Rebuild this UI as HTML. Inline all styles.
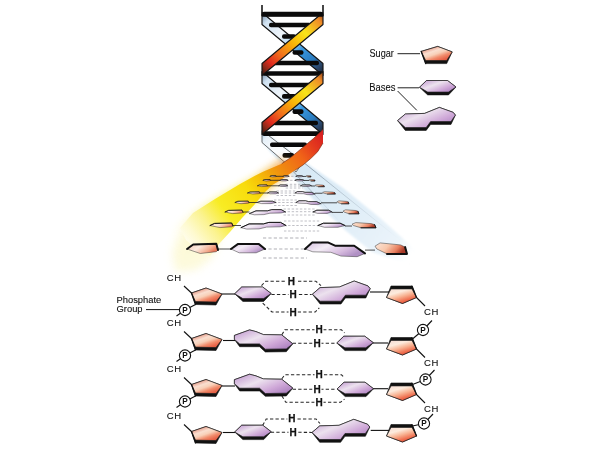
<!DOCTYPE html><html><head><meta charset="utf-8"><style>html,body{margin:0;padding:0;background:#fff;}svg{display:block;filter:blur(0.35px)}text{font-family:"Liberation Sans",sans-serif}</style></head><body>
<svg width="600" height="450" viewBox="0 0 600 450">
<defs>
<linearGradient id="sug" x1="0.1" y1="0" x2="0.85" y2="1">
 <stop offset="0" stop-color="#c06252"/><stop offset="0.18" stop-color="#e8a492"/><stop offset="0.36" stop-color="#fadfd0"/><stop offset="0.52" stop-color="#f8d0b8"/><stop offset="0.7" stop-color="#f18c6c"/><stop offset="0.86" stop-color="#e8664a"/><stop offset="1" stop-color="#d85036"/></linearGradient>
<linearGradient id="sugR" x1="0.1" y1="0" x2="0.7" y2="1">
 <stop offset="0" stop-color="#f6dcd4"/><stop offset="0.3" stop-color="#fdebdd"/><stop offset="0.55" stop-color="#f8b494"/><stop offset="0.8" stop-color="#ef7050"/><stop offset="1" stop-color="#d84430"/></linearGradient>
<linearGradient id="bas" x1="0" y1="0.1" x2="1" y2="0.9">
 <stop offset="0" stop-color="#c29ad0"/><stop offset="0.38" stop-color="#ece2ee"/><stop offset="0.7" stop-color="#cfa8d8"/><stop offset="1" stop-color="#a87cbc"/></linearGradient>
<linearGradient id="fanY" gradientUnits="userSpaceOnUse" x1="323" y1="136" x2="185" y2="245">
 <stop offset="0" stop-color="#d82020"/><stop offset="0.08" stop-color="#e43a1e"/><stop offset="0.17" stop-color="#f06418"/><stop offset="0.27" stop-color="#f08212"/><stop offset="0.36" stop-color="#f2a00c"/><stop offset="0.44" stop-color="#f6c208"/><stop offset="0.52" stop-color="#f8dc0c"/><stop offset="0.7" stop-color="#f8ec24"/><stop offset="0.82" stop-color="#fbf390"/><stop offset="0.92" stop-color="#fefad0"/><stop offset="1" stop-color="#fffef4"/></linearGradient>
<linearGradient id="fanB" gradientUnits="userSpaceOnUse" x1="300" y1="160" x2="410" y2="262">
 <stop offset="0" stop-color="#d6e8f5"/><stop offset="0.5" stop-color="#e0eef8"/><stop offset="0.85" stop-color="#ebf4fa"/><stop offset="1" stop-color="#ffffff" stop-opacity="0"/></linearGradient>
<linearGradient id="fsug" x1="0" y1="0" x2="1" y2="0.3">
 <stop offset="0" stop-color="#fbe6da"/><stop offset="0.45" stop-color="#f8c8ac"/><stop offset="0.78" stop-color="#e88060"/><stop offset="1" stop-color="#a83a28"/></linearGradient>
<linearGradient id="fsugL" x1="0" y1="0" x2="1" y2="0.4">
 <stop offset="0" stop-color="#f4c4b0"/><stop offset="0.45" stop-color="#fcebdf"/><stop offset="0.8" stop-color="#f4b094"/><stop offset="1" stop-color="#e87a5c"/></linearGradient>
<linearGradient id="fbas" x1="0" y1="0" x2="1" y2="0.5">
 <stop offset="0" stop-color="#d4bede"/><stop offset="0.4" stop-color="#f4eef6"/><stop offset="0.75" stop-color="#d6bade"/><stop offset="1" stop-color="#b090c4"/></linearGradient>
<filter id="blur1" x="-20%" y="-20%" width="140%" height="140%"><feGaussianBlur stdDeviation="1.2"/></filter>
<filter id="blur3" x="-30%" y="-30%" width="160%" height="160%"><feGaussianBlur stdDeviation="4"/></filter>
</defs>
<rect width="600" height="450" fill="#fff"/>
<g filter="url(#blur1)"><polygon points="262.0,130.0 303.0,161.0 343.0,188.0 380.0,218.0 418.0,252.0 408.0,264.0 372.0,252.0 345.0,230.0 318.0,205.0 296.0,180.0 262.0,142.0" fill="url(#fanB)"/></g>
<linearGradient id="lnfade" gradientUnits="userSpaceOnUse" x1="303" y1="162" x2="400" y2="240"><stop offset="0" stop-color="#6a7a88"/><stop offset="0.5" stop-color="#9aaab8" stop-opacity="0.6"/><stop offset="1" stop-color="#c0d0dc" stop-opacity="0"/></linearGradient>
<line x1="303" y1="162" x2="400" y2="240" stroke="url(#lnfade)" stroke-width="0.7" />
<linearGradient id="lnfade2" gradientUnits="userSpaceOnUse" x1="290" y1="168" x2="340" y2="222"><stop offset="0" stop-color="#6a7a88"/><stop offset="0.6" stop-color="#9aaab8" stop-opacity="0.6"/><stop offset="1" stop-color="#c0d0dc" stop-opacity="0"/></linearGradient>
<line x1="290" y1="168" x2="340" y2="222" stroke="url(#lnfade2)" stroke-width="0.7" />
<defs><linearGradient id="fg0" gradientUnits="userSpaceOnUse" x1="323" y1="14.5" x2="262" y2="73.5"><stop offset="0" stop-color="#9a4a1a"/><stop offset="0.08" stop-color="#ee8a28"/><stop offset="0.3" stop-color="#f8e41a"/><stop offset="0.5" stop-color="#f8b208"/><stop offset="0.7" stop-color="#f06a1c"/><stop offset="0.84" stop-color="#e02a1e"/><stop offset="0.93" stop-color="#8a2a1a"/><stop offset="1" stop-color="#3a1a12"/></linearGradient><linearGradient id="bg0" gradientUnits="userSpaceOnUse" x1="262" y1="14.5" x2="323" y2="73.5"><stop offset="0" stop-color="#7890a8"/><stop offset="0.1" stop-color="#d0e2f2"/><stop offset="0.32" stop-color="#eef4fa"/><stop offset="0.5" stop-color="#a8d4f2"/><stop offset="0.62" stop-color="#3898e0"/><stop offset="0.8" stop-color="#2a7cc0"/><stop offset="0.9" stop-color="#2c4a70"/><stop offset="1" stop-color="#1c2434"/></linearGradient><linearGradient id="fg1" gradientUnits="userSpaceOnUse" x1="323" y1="73.5" x2="262" y2="132.5"><stop offset="0" stop-color="#9a4a1a"/><stop offset="0.08" stop-color="#ee8a28"/><stop offset="0.3" stop-color="#f8e41a"/><stop offset="0.5" stop-color="#f8b208"/><stop offset="0.7" stop-color="#f06a1c"/><stop offset="0.84" stop-color="#e02a1e"/><stop offset="0.93" stop-color="#8a2a1a"/><stop offset="1" stop-color="#3a1a12"/></linearGradient><linearGradient id="bg1" gradientUnits="userSpaceOnUse" x1="262" y1="73.5" x2="323" y2="132.5"><stop offset="0" stop-color="#7890a8"/><stop offset="0.1" stop-color="#d0e2f2"/><stop offset="0.32" stop-color="#eef4fa"/><stop offset="0.5" stop-color="#a8d4f2"/><stop offset="0.62" stop-color="#3898e0"/><stop offset="0.8" stop-color="#2a7cc0"/><stop offset="0.9" stop-color="#2c4a70"/><stop offset="1" stop-color="#1c2434"/></linearGradient><linearGradient id="fg2" gradientUnits="userSpaceOnUse" x1="323" y1="132.5" x2="262" y2="191.5"><stop offset="0" stop-color="#9a4a1a"/><stop offset="0.08" stop-color="#ee8a28"/><stop offset="0.3" stop-color="#f8e41a"/><stop offset="0.5" stop-color="#f8b208"/><stop offset="0.7" stop-color="#f06a1c"/><stop offset="0.84" stop-color="#e02a1e"/><stop offset="0.93" stop-color="#8a2a1a"/><stop offset="1" stop-color="#3a1a12"/></linearGradient><linearGradient id="bg2" gradientUnits="userSpaceOnUse" x1="262" y1="132.5" x2="323" y2="191.5"><stop offset="0" stop-color="#7890a8"/><stop offset="0.1" stop-color="#d0e2f2"/><stop offset="0.32" stop-color="#eef4fa"/><stop offset="0.5" stop-color="#a8d4f2"/><stop offset="0.62" stop-color="#3898e0"/><stop offset="0.8" stop-color="#2a7cc0"/><stop offset="0.9" stop-color="#2c4a70"/><stop offset="1" stop-color="#1c2434"/></linearGradient><linearGradient id="bs2" gradientUnits="userSpaceOnUse" x1="262" y1="131" x2="300" y2="166"><stop offset="0" stop-color="#a4cae6"/><stop offset="0.15" stop-color="#e6f0f8"/><stop offset="0.4" stop-color="#fafcfe"/><stop offset="1" stop-color="#fcfdfe"/></linearGradient></defs>
<polygon points="262.0,12.5 262.0,24.5 323.0,75.5 323.0,63.5" fill="url(#bg0)" stroke="#141414" stroke-width="1.15" stroke-linejoin="round"/>
<polygon points="262.0,71.5 262.0,83.5 323.0,134.5 323.0,122.5" fill="url(#bg1)" stroke="#141414" stroke-width="1.15" stroke-linejoin="round"/>
<polygon points="262.0,130.5 262.0,142.5 296.0,172.0 303.0,162.0" fill="url(#bs2)" stroke="#333" stroke-width="0.7"/>
<rect x="262" y="11.7" width="61" height="4.6" rx="2" fill="#0a0a0a"/>
<rect x="269" y="22.7" width="42" height="4.6" rx="2" fill="#0a0a0a"/>
<rect x="282" y="34.2" width="14" height="4.6" rx="2" fill="#0a0a0a"/>
<rect x="292.5" y="50.2" width="11.0" height="4.6" rx="2" fill="#0a0a0a"/>
<rect x="271" y="60.7" width="48" height="4.6" rx="2" fill="#0a0a0a"/>
<rect x="262" y="71.2" width="61" height="4.6" rx="2" fill="#0a0a0a"/>
<rect x="269" y="82.7" width="42" height="4.6" rx="2" fill="#0a0a0a"/>
<rect x="282" y="94.10000000000001" width="14" height="4.6" rx="2" fill="#0a0a0a"/>
<rect x="292.5" y="109.3" width="11.0" height="4.6" rx="2" fill="#0a0a0a"/>
<rect x="273" y="120.7" width="45" height="4.6" rx="2" fill="#0a0a0a"/>
<rect x="262" y="131.29999999999998" width="61" height="4.6" rx="2" fill="#0a0a0a"/>
<rect x="270" y="142.39999999999998" width="37" height="4.6" rx="2" fill="#0a0a0a"/>
<rect x="282.5" y="153.1" width="11.5" height="4.6" rx="2" fill="#0a0a0a"/>
<polygon points="323.0,12.5 323.0,24.5 262.0,75.5 262.0,63.5" fill="url(#fg0)" stroke="#141414" stroke-width="1.15" stroke-linejoin="round"/>
<polygon points="323.0,71.5 323.0,83.5 262.0,134.5 262.0,122.5" fill="url(#fg1)" stroke="#141414" stroke-width="1.15" stroke-linejoin="round"/>
<path d="M262,5 L262,12.5 Q262,13.5 264,13.5" fill="none" stroke="#1a1a1a" stroke-width="1.6"/>
<path d="M323,5 L323,12.5 Q323,13.5 321,13.5" fill="none" stroke="#1a1a1a" stroke-width="1.6"/>
<rect x="261.3" y="12.4" width="62.4" height="4.4" rx="1.5" fill="#0a0a0a"/>
<g filter="url(#blur3)" opacity="0.75"><polygon points="285.0,158.0 255.0,178.0 225.0,195.0 195.0,212.0 176.0,228.0 170.0,250.0 185.0,258.0 205.0,246.0 218.0,232.0 240.0,212.0 265.0,192.0 290.0,170.0" fill="url(#fanY)"/></g>
<g filter="url(#blur3)" opacity="0.55"><polygon points="196.0,222.0 180.0,236.0 172.0,256.0 176.0,272.0 196.0,270.0 212.0,258.0 220.0,240.0 212.0,228.0" fill="#fbf6c0"/></g>
<polygon points="323.0,129.5 313.7,138.3 305.7,145.0 297.7,151.7 289.7,158.3 281.7,163.7 272.3,167.7 263.0,171.7 255.0,175.7 240.0,184.0 215.0,199.0 193.0,213.0 180.0,228.0 186.0,240.0 200.0,252.0 210.0,256.0 218.0,245.0 230.0,232.0 242.0,218.0 255.0,204.0 265.0,192.0 272.3,185.0 279.0,181.0 287.0,175.7 295.0,170.3 303.0,165.0 311.0,158.3 317.7,151.7 323.0,143.0" fill="url(#fanY)"/>
<polyline points="323.0,129.5 313.7,138.3 305.7,145.0 297.7,151.7 289.7,158.3 281.7,163.7" fill="none" stroke="#7a2a10" stroke-width="0.8" opacity="0.8"/>
<polyline points="323.0,143.0 317.7,151.7 311.0,158.3 303.0,165.0 295.0,170.3" fill="none" stroke="#7a2a10" stroke-width="0.8" opacity="0.8"/>
<line x1="263" y1="238" x2="307" y2="238" stroke="#8c8c96" stroke-width="0.7" stroke-dasharray="3.2 2.2"/>
<line x1="263" y1="249" x2="307" y2="249" stroke="#8c8c96" stroke-width="0.7" stroke-dasharray="3.2 2.2"/>
<line x1="263" y1="258" x2="307" y2="258" stroke="#8c8c96" stroke-width="0.7" stroke-dasharray="3.2 2.2"/>
<line x1="218" y1="249" x2="231" y2="249" stroke="#222" stroke-width="0.8" />
<line x1="365" y1="250.1" x2="375" y2="250.1" stroke="#222" stroke-width="0.8" />
<polygon points="187.0,249.0 193.2,244.5 216.3,243.7 218.0,250.0 216.3,251.7 200.3,253.5" fill="url(#fsugL)" stroke="#333" stroke-width="0.5" stroke-linejoin="round"/><polyline points="187.0,249.0 193.2,244.5 216.3,243.7 218.0,250.0" fill="none" stroke="#111" stroke-width="2.00" stroke-linejoin="round" stroke-linecap="round"/>
<polygon points="231.0,249.0 237.8,244.1 258.9,244.1 265.0,249.0 256.2,252.8 239.2,252.8" fill="url(#fbas)" stroke="#333" stroke-width="0.5" stroke-linejoin="round"/><polyline points="231.0,249.0 237.8,244.1 258.9,244.1 265.0,249.0" fill="none" stroke="#111" stroke-width="2.00" stroke-linejoin="round" stroke-linecap="round"/>
<polygon points="305.0,249.0 312.2,242.4 327.8,242.4 335.0,245.7 354.2,245.7 365.0,253.4 357.2,256.7 341.0,256.1 330.8,252.3 312.8,251.8" fill="url(#fbas)" stroke="#333" stroke-width="0.5" stroke-linejoin="round"/><polyline points="305.0,249.0 312.2,242.4 327.8,242.4 335.0,245.7 354.2,245.7 365.0,253.4" fill="none" stroke="#111" stroke-width="2.00" stroke-linejoin="round" stroke-linecap="round"/>
<polygon points="375.0,246.2 380.1,242.9 400.6,244.9 405.1,247.1 407.0,253.9 387.0,253.9 376.9,249.0" fill="url(#fsug)" stroke="#333" stroke-width="0.5" stroke-linejoin="round"/><polyline points="405.1,247.1 407.0,253.9 387.0,253.9" fill="none" stroke="#111" stroke-width="2.00" stroke-linejoin="round" stroke-linecap="round"/>
<line x1="284" y1="221" x2="320" y2="221" stroke="#8c8c96" stroke-width="0.55" stroke-dasharray="2.4 1.7"/>
<line x1="284" y1="225.5" x2="320" y2="225.5" stroke="#8c8c96" stroke-width="0.55" stroke-dasharray="2.4 1.7"/>
<line x1="284" y1="231" x2="320" y2="231" stroke="#8c8c96" stroke-width="0.55" stroke-dasharray="2.4 1.7"/>
<line x1="233" y1="225.5" x2="241" y2="225.5" stroke="#222" stroke-width="0.8" />
<line x1="345" y1="226.02" x2="352" y2="226.02" stroke="#222" stroke-width="0.8" />
<polygon points="210.0,225.5 214.6,223.4 231.7,223.0 233.0,226.0 231.7,226.8 219.9,227.6" fill="url(#fsugL)" stroke="#333" stroke-width="0.5" stroke-linejoin="round"/><polyline points="210.0,225.5 214.6,223.4 231.7,223.0 233.0,226.0" fill="none" stroke="#111" stroke-width="0.99" stroke-linejoin="round" stroke-linecap="round"/>
<polygon points="286.0,225.5 280.6,222.4 268.9,222.4 263.5,223.9 249.1,223.9 241.0,227.6 246.8,229.1 259.0,228.9 266.6,227.1 280.1,226.8" fill="url(#fbas)" stroke="#333" stroke-width="0.5" stroke-linejoin="round"/><polyline points="286.0,225.5 280.6,222.4 268.9,222.4 263.5,223.9 249.1,223.9 241.0,227.6" fill="none" stroke="#111" stroke-width="0.99" stroke-linejoin="round" stroke-linecap="round"/>
<polygon points="318.0,225.5 323.4,223.2 340.1,223.2 345.0,225.5 338.0,227.3 324.5,227.3" fill="url(#fbas)" stroke="#333" stroke-width="0.5" stroke-linejoin="round"/><polyline points="318.0,225.5 323.4,223.2 340.1,223.2 345.0,225.5" fill="none" stroke="#111" stroke-width="0.99" stroke-linejoin="round" stroke-linecap="round"/>
<polygon points="352.0,224.2 355.8,222.6 371.2,223.6 374.6,224.6 376.0,227.8 361.0,227.8 353.4,225.5" fill="url(#fsug)" stroke="#333" stroke-width="0.5" stroke-linejoin="round"/><polyline points="374.6,224.6 376.0,227.8 361.0,227.8" fill="none" stroke="#111" stroke-width="0.99" stroke-linejoin="round" stroke-linecap="round"/>
<line x1="283.5" y1="209" x2="315" y2="209" stroke="#8c8c96" stroke-width="0.55" stroke-dasharray="2.4 1.7"/>
<line x1="283.5" y1="211.7" x2="315" y2="211.7" stroke="#8c8c96" stroke-width="0.55" stroke-dasharray="2.4 1.7"/>
<line x1="283.5" y1="215" x2="315" y2="215" stroke="#8c8c96" stroke-width="0.55" stroke-dasharray="2.4 1.7"/>
<line x1="243" y1="212" x2="249.5" y2="212" stroke="#222" stroke-width="0.8" />
<line x1="332" y1="212.4" x2="343" y2="212.4" stroke="#222" stroke-width="0.8" />
<polygon points="225.0,212.0 228.6,210.4 242.0,210.1 243.0,212.4 242.0,213.0 232.7,213.6" fill="url(#fsugL)" stroke="#333" stroke-width="0.5" stroke-linejoin="round"/><polyline points="225.0,212.0 228.6,210.4 242.0,210.1 243.0,212.4" fill="none" stroke="#111" stroke-width="0.76" stroke-linejoin="round" stroke-linecap="round"/>
<polygon points="285.5,212.0 281.2,209.6 271.8,209.6 267.5,210.8 256.0,210.8 249.5,213.6 254.2,214.8 263.9,214.6 270.0,213.2 280.8,213.0" fill="url(#fbas)" stroke="#333" stroke-width="0.5" stroke-linejoin="round"/><polyline points="285.5,212.0 281.2,209.6 271.8,209.6 267.5,210.8 256.0,210.8 249.5,213.6" fill="none" stroke="#111" stroke-width="0.76" stroke-linejoin="round" stroke-linecap="round"/>
<polygon points="313.0,212.0 316.8,210.2 328.6,210.2 332.0,212.0 327.1,213.4 317.6,213.4" fill="url(#fbas)" stroke="#333" stroke-width="0.5" stroke-linejoin="round"/><polyline points="313.0,212.0 316.8,210.2 328.6,210.2 332.0,212.0" fill="none" stroke="#111" stroke-width="0.76" stroke-linejoin="round" stroke-linecap="round"/>
<polygon points="343.0,211.0 345.6,209.8 355.8,210.5 358.0,211.3 359.0,213.8 349.0,213.8 344.0,212.0" fill="url(#fsug)" stroke="#333" stroke-width="0.5" stroke-linejoin="round"/><polyline points="358.0,211.3 359.0,213.8 349.0,213.8" fill="none" stroke="#111" stroke-width="0.76" stroke-linejoin="round" stroke-linecap="round"/>
<line x1="274" y1="200" x2="298" y2="200" stroke="#8c8c96" stroke-width="0.55" stroke-dasharray="2.4 1.7"/>
<line x1="274" y1="202.5" x2="298" y2="202.5" stroke="#8c8c96" stroke-width="0.55" stroke-dasharray="2.4 1.7"/>
<line x1="274" y1="205.5" x2="298" y2="205.5" stroke="#8c8c96" stroke-width="0.55" stroke-dasharray="2.4 1.7"/>
<line x1="249" y1="202.5" x2="257" y2="202.5" stroke="#222" stroke-width="0.8" />
<line x1="321" y1="202.8" x2="337" y2="202.8" stroke="#222" stroke-width="0.8" />
<polygon points="235.0,202.5 237.8,201.3 248.2,201.1 249.0,202.8 248.2,203.2 241.0,203.7" fill="url(#fsugL)" stroke="#333" stroke-width="0.5" stroke-linejoin="round"/><polyline points="235.0,202.5 237.8,201.3 248.2,201.1 249.0,202.8" fill="none" stroke="#111" stroke-width="0.60" stroke-linejoin="round" stroke-linecap="round"/>
<polygon points="257.0,202.5 260.8,201.2 272.6,201.2 276.0,202.5 271.1,203.6 261.6,203.6" fill="url(#fbas)" stroke="#333" stroke-width="0.5" stroke-linejoin="round"/><polyline points="257.0,202.5 260.8,201.2 272.6,201.2 276.0,202.5" fill="none" stroke="#111" stroke-width="0.60" stroke-linejoin="round" stroke-linecap="round"/>
<polygon points="296.0,202.5 299.0,200.7 305.5,200.7 308.5,201.6 316.5,201.6 321.0,203.7 317.8,204.6 311.0,204.4 306.8,203.4 299.2,203.2" fill="url(#fbas)" stroke="#333" stroke-width="0.5" stroke-linejoin="round"/><polyline points="296.0,202.5 299.0,200.7 305.5,200.7 308.5,201.6 316.5,201.6 321.0,203.7" fill="none" stroke="#111" stroke-width="0.60" stroke-linejoin="round" stroke-linecap="round"/>
<polygon points="337.0,201.8 338.9,200.8 346.6,201.4 348.3,202.0 349.0,203.8 341.5,203.8 337.7,202.5" fill="url(#fsug)" stroke="#333" stroke-width="0.5" stroke-linejoin="round"/><polyline points="348.3,202.0 349.0,203.8 341.5,203.8" fill="none" stroke="#111" stroke-width="0.60" stroke-linejoin="round" stroke-linecap="round"/>
<line x1="276.5" y1="191" x2="297" y2="191" stroke="#8c8c96" stroke-width="0.55" stroke-dasharray="2.4 1.7"/>
<line x1="276.5" y1="193" x2="297" y2="193" stroke="#8c8c96" stroke-width="0.55" stroke-dasharray="2.4 1.7"/>
<line x1="276.5" y1="195.5" x2="297" y2="195.5" stroke="#8c8c96" stroke-width="0.55" stroke-dasharray="2.4 1.7"/>
<line x1="260" y1="193" x2="267.5" y2="193" stroke="#222" stroke-width="0.8" />
<line x1="315" y1="193.24" x2="322.6" y2="193.24" stroke="#222" stroke-width="0.8" />
<polygon points="247.5,193.0 250.0,192.0 259.3,191.8 260.0,193.2 259.3,193.6 252.9,194.0" fill="url(#fsugL)" stroke="#333" stroke-width="0.5" stroke-linejoin="round"/><polyline points="247.5,193.0 250.0,192.0 259.3,191.8 260.0,193.2" fill="none" stroke="#111" stroke-width="0.60" stroke-linejoin="round" stroke-linecap="round"/>
<polygon points="267.5,193.0 269.7,191.9 276.5,191.9 278.5,193.0 275.6,193.8 270.1,193.8" fill="url(#fbas)" stroke="#333" stroke-width="0.5" stroke-linejoin="round"/><polyline points="267.5,193.0 269.7,191.9 276.5,191.9 278.5,193.0" fill="none" stroke="#111" stroke-width="0.60" stroke-linejoin="round" stroke-linecap="round"/>
<polygon points="295.0,193.0 297.4,191.6 302.6,191.6 305.0,192.3 311.4,192.3 315.0,194.0 312.4,194.7 307.0,194.6 303.6,193.7 297.6,193.6" fill="url(#fbas)" stroke="#333" stroke-width="0.5" stroke-linejoin="round"/><polyline points="295.0,193.0 297.4,191.6 302.6,191.6 305.0,192.3 311.4,192.3 315.0,194.0" fill="none" stroke="#111" stroke-width="0.60" stroke-linejoin="round" stroke-linecap="round"/>
<polygon points="322.6,192.4 324.6,191.7 332.8,192.1 334.6,192.6 335.4,194.1 327.4,194.1 323.4,193.0" fill="url(#fsug)" stroke="#333" stroke-width="0.5" stroke-linejoin="round"/><polyline points="334.6,192.6 335.4,194.1 327.4,194.1" fill="none" stroke="#111" stroke-width="0.60" stroke-linejoin="round" stroke-linecap="round"/>
<line x1="285.7" y1="184.3" x2="302.5" y2="184.3" stroke="#8c8c96" stroke-width="0.55" stroke-dasharray="2.4 1.7"/>
<line x1="285.7" y1="186" x2="302.5" y2="186" stroke="#8c8c96" stroke-width="0.55" stroke-dasharray="2.4 1.7"/>
<line x1="285.7" y1="188" x2="302.5" y2="188" stroke="#8c8c96" stroke-width="0.55" stroke-dasharray="2.4 1.7"/>
<line x1="267.5" y1="185.8" x2="278.5" y2="185.8" stroke="#222" stroke-width="0.8" />
<line x1="311.5" y1="186.0" x2="315" y2="186.0" stroke="#222" stroke-width="0.8" />
<polygon points="257.4,185.8 259.4,185.0 266.9,184.8 267.5,186.0 266.9,186.3 261.7,186.6" fill="url(#fsugL)" stroke="#333" stroke-width="0.5" stroke-linejoin="round"/><polyline points="257.4,185.8 259.4,185.0 266.9,184.8 267.5,186.0" fill="none" stroke="#111" stroke-width="0.60" stroke-linejoin="round" stroke-linecap="round"/>
<polygon points="278.5,185.8 280.3,184.9 286.0,184.9 287.7,185.8 285.3,186.5 280.7,186.5" fill="url(#fbas)" stroke="#333" stroke-width="0.5" stroke-linejoin="round"/><polyline points="278.5,185.8 280.3,184.9 286.0,184.9 287.7,185.8" fill="none" stroke="#111" stroke-width="0.60" stroke-linejoin="round" stroke-linecap="round"/>
<polygon points="300.5,185.8 302.7,184.9 309.5,184.9 311.5,185.8 308.6,186.5 303.1,186.5" fill="url(#fbas)" stroke="#333" stroke-width="0.5" stroke-linejoin="round"/><polyline points="300.5,185.8 302.7,184.9 309.5,184.9 311.5,185.8" fill="none" stroke="#111" stroke-width="0.60" stroke-linejoin="round" stroke-linecap="round"/>
<polygon points="315.0,185.3 316.5,184.7 322.5,185.1 323.8,185.5 324.4,186.7 318.5,186.7 315.6,185.8" fill="url(#fsug)" stroke="#333" stroke-width="0.5" stroke-linejoin="round"/><polyline points="323.8,185.5 324.4,186.7 318.5,186.7" fill="none" stroke="#111" stroke-width="0.60" stroke-linejoin="round" stroke-linecap="round"/>
<line x1="286" y1="180.3" x2="297" y2="180.3" stroke="#8c8c96" stroke-width="0.55" stroke-dasharray="2.4 1.7"/>
<line x1="270.5" y1="180.3" x2="280" y2="180.3" stroke="#222" stroke-width="0.8" />
<line x1="304" y1="180.46" x2="309" y2="180.46" stroke="#222" stroke-width="0.8" />
<polygon points="263.0,180.3 264.5,179.6 270.1,179.5 270.5,180.4 270.1,180.7 266.2,181.0" fill="url(#fsugL)" stroke="#333" stroke-width="0.5" stroke-linejoin="round"/><polyline points="263.0,180.3 264.5,179.6 270.1,179.5 270.5,180.4" fill="none" stroke="#111" stroke-width="0.60" stroke-linejoin="round" stroke-linecap="round"/>
<polygon points="280.0,180.3 281.6,179.6 286.6,179.6 288.0,180.3 285.9,180.9 281.9,180.9" fill="url(#fbas)" stroke="#333" stroke-width="0.5" stroke-linejoin="round"/><polyline points="280.0,180.3 281.6,179.6 286.6,179.6 288.0,180.3" fill="none" stroke="#111" stroke-width="0.60" stroke-linejoin="round" stroke-linecap="round"/>
<polygon points="295.0,180.3 296.8,179.6 302.4,179.6 304.0,180.3 301.7,180.9 297.2,180.9" fill="url(#fbas)" stroke="#333" stroke-width="0.5" stroke-linejoin="round"/><polyline points="295.0,180.3 296.8,179.6 302.4,179.6 304.0,180.3" fill="none" stroke="#111" stroke-width="0.60" stroke-linejoin="round" stroke-linecap="round"/>
<polygon points="309.0,179.9 310.0,179.4 313.8,179.7 314.6,180.0 315.0,181.0 311.2,181.0 309.4,180.3" fill="url(#fsug)" stroke="#333" stroke-width="0.5" stroke-linejoin="round"/><polyline points="314.6,180.0 315.0,181.0 311.2,181.0" fill="none" stroke="#111" stroke-width="0.60" stroke-linejoin="round" stroke-linecap="round"/>
<line x1="287" y1="176.3" x2="298" y2="176.3" stroke="#8c8c96" stroke-width="0.55" stroke-dasharray="2.4 1.7"/>
<line x1="276" y1="176.3" x2="283" y2="176.3" stroke="#222" stroke-width="0.8" />
<line x1="303" y1="176.44" x2="306" y2="176.44" stroke="#222" stroke-width="0.8" />
<polygon points="270.0,176.3 271.2,175.7 275.7,175.6 276.0,176.4 275.7,176.6 272.6,176.9" fill="url(#fsugL)" stroke="#333" stroke-width="0.5" stroke-linejoin="round"/><polyline points="270.0,176.3 271.2,175.7 275.7,175.6 276.0,176.4" fill="none" stroke="#111" stroke-width="0.60" stroke-linejoin="round" stroke-linecap="round"/>
<polygon points="283.0,176.3 284.2,175.7 287.9,175.7 289.0,176.3 287.4,176.8 284.4,176.8" fill="url(#fbas)" stroke="#333" stroke-width="0.5" stroke-linejoin="round"/><polyline points="283.0,176.3 284.2,175.7 287.9,175.7 289.0,176.3" fill="none" stroke="#111" stroke-width="0.60" stroke-linejoin="round" stroke-linecap="round"/>
<polygon points="296.0,176.3 297.4,175.7 301.7,175.7 303.0,176.3 301.2,176.8 297.7,176.8" fill="url(#fbas)" stroke="#333" stroke-width="0.5" stroke-linejoin="round"/><polyline points="296.0,176.3 297.4,175.7 301.7,175.7 303.0,176.3" fill="none" stroke="#111" stroke-width="0.60" stroke-linejoin="round" stroke-linecap="round"/>
<polygon points="306.0,176.0 306.8,175.5 310.0,175.8 310.7,176.1 311.0,176.9 307.9,176.9 306.3,176.3" fill="url(#fsug)" stroke="#333" stroke-width="0.5" stroke-linejoin="round"/><polyline points="310.7,176.1 311.0,176.9 307.9,176.9" fill="none" stroke="#111" stroke-width="0.60" stroke-linejoin="round" stroke-linecap="round"/>
<polyline points="261.5,285.7 265.6,281.2 315.8,281.2 321.0,285.7" fill="none" stroke="#262626" stroke-width="1.05" stroke-dasharray="3.3 2.2"/>
<polyline points="271.4,294.4 311.7,294.4" fill="none" stroke="#262626" stroke-width="1.05" stroke-dasharray="3.3 2.2"/>
<polyline points="262.7,303.2 272.0,312.0 315.2,312.0 319.3,307.8" fill="none" stroke="#262626" stroke-width="1.05" stroke-dasharray="3.3 2.2"/>
<rect x="286.9" y="277.2" width="9" height="8" fill="#fff"/>
<text x="291.4" y="284.59999999999997" font-size="10" font-weight="bold" text-anchor="middle" fill="#111" stroke="#111" stroke-width="0.25" style="font-family:'Liberation Sans',sans-serif">H</text>
<rect x="288.5" y="290.3" width="9" height="8" fill="#fff"/>
<text x="293" y="297.7" font-size="10" font-weight="bold" text-anchor="middle" fill="#111" stroke="#111" stroke-width="0.25" style="font-family:'Liberation Sans',sans-serif">H</text>
<rect x="288.5" y="308.2" width="9" height="8" fill="#fff"/>
<text x="293" y="315.59999999999997" font-size="10" font-weight="bold" text-anchor="middle" fill="#111" stroke="#111" stroke-width="0.25" style="font-family:'Liberation Sans',sans-serif">H</text>
<polyline points="281.9,334.7 284.8,329.8 341.5,329.8 344.5,332.8" fill="none" stroke="#262626" stroke-width="1.05" stroke-dasharray="3.3 2.2"/>
<polyline points="292.7,343.3 336.7,343.3" fill="none" stroke="#262626" stroke-width="1.05" stroke-dasharray="3.3 2.2"/>
<rect x="314.5" y="325.8" width="9" height="8" fill="#fff"/>
<text x="319" y="333.2" font-size="10" font-weight="bold" text-anchor="middle" fill="#111" stroke="#111" stroke-width="0.25" style="font-family:'Liberation Sans',sans-serif">H</text>
<rect x="312.5" y="339.4" width="9" height="8" fill="#fff"/>
<text x="317" y="346.79999999999995" font-size="10" font-weight="bold" text-anchor="middle" fill="#111" stroke="#111" stroke-width="0.25" style="font-family:'Liberation Sans',sans-serif">H</text>
<polyline points="281.9,378.7 284.8,374.8 341.5,374.8 344.5,377.7" fill="none" stroke="#262626" stroke-width="1.05" stroke-dasharray="3.3 2.2"/>
<polyline points="292.7,389.3 336.7,389.3" fill="none" stroke="#262626" stroke-width="1.05" stroke-dasharray="3.3 2.2"/>
<polyline points="281.9,396.0 285.8,402.2 340.6,402.2 344.5,399.2" fill="none" stroke="#262626" stroke-width="1.05" stroke-dasharray="3.3 2.2"/>
<rect x="314.5" y="370.8" width="9" height="8" fill="#fff"/>
<text x="319" y="378.2" font-size="10" font-weight="bold" text-anchor="middle" fill="#111" stroke="#111" stroke-width="0.25" style="font-family:'Liberation Sans',sans-serif">H</text>
<rect x="312.5" y="385.4" width="9" height="8" fill="#fff"/>
<text x="317" y="392.79999999999995" font-size="10" font-weight="bold" text-anchor="middle" fill="#111" stroke="#111" stroke-width="0.25" style="font-family:'Liberation Sans',sans-serif">H</text>
<rect x="314.5" y="398.3" width="9" height="8" fill="#fff"/>
<text x="319" y="405.7" font-size="10" font-weight="bold" text-anchor="middle" fill="#111" stroke="#111" stroke-width="0.25" style="font-family:'Liberation Sans',sans-serif">H</text>
<polyline points="262.7,425.3 266.2,419.0 316.0,419.0 320.0,423.5" fill="none" stroke="#262626" stroke-width="1.05" stroke-dasharray="3.3 2.2"/>
<polyline points="270.8,432.2 312.0,432.4" fill="none" stroke="#262626" stroke-width="1.05" stroke-dasharray="3.3 2.2"/>
<rect x="287.3" y="415.0" width="9" height="8" fill="#fff"/>
<text x="291.8" y="422.4" font-size="10" font-weight="bold" text-anchor="middle" fill="#111" stroke="#111" stroke-width="0.25" style="font-family:'Liberation Sans',sans-serif">H</text>
<rect x="288.5" y="428.4" width="9" height="8" fill="#fff"/>
<text x="293" y="435.79999999999995" font-size="10" font-weight="bold" text-anchor="middle" fill="#111" stroke="#111" stroke-width="0.25" style="font-family:'Liberation Sans',sans-serif">H</text>
<line x1="222" y1="294" x2="235" y2="294" stroke="#111" stroke-width="1.1" />
<line x1="370" y1="292" x2="390" y2="292" stroke="#111" stroke-width="1.1" />
<line x1="223" y1="340.5" x2="235" y2="340.5" stroke="#111" stroke-width="1.1" />
<line x1="373" y1="343" x2="388" y2="343" stroke="#111" stroke-width="1.1" />
<line x1="222" y1="386" x2="235" y2="386" stroke="#111" stroke-width="1.1" />
<line x1="373" y1="388.7" x2="388" y2="388.7" stroke="#111" stroke-width="1.1" />
<line x1="223" y1="432.5" x2="235" y2="432.5" stroke="#111" stroke-width="1.1" />
<line x1="370.7" y1="430.4" x2="389" y2="430.4" stroke="#111" stroke-width="1.1" />
<line x1="184" y1="286" x2="192.0" y2="293.5" stroke="#111" stroke-width="1.1" />
<text x="166.7" y="280.7" font-size="9.5" letter-spacing="0.75" fill="#111" stroke="#111" stroke-width="0.1" style="font-family:'Liberation Sans',sans-serif">CH</text>
<line x1="184" y1="331.5" x2="192.0" y2="339.0" stroke="#111" stroke-width="1.1" />
<text x="166.7" y="326.2" font-size="9.5" letter-spacing="0.75" fill="#111" stroke="#111" stroke-width="0.1" style="font-family:'Liberation Sans',sans-serif">CH</text>
<line x1="184" y1="377.5" x2="192.0" y2="385.0" stroke="#111" stroke-width="1.1" />
<text x="166.7" y="372.2" font-size="9.5" letter-spacing="0.75" fill="#111" stroke="#111" stroke-width="0.1" style="font-family:'Liberation Sans',sans-serif">CH</text>
<line x1="184" y1="424.5" x2="192.0" y2="432.0" stroke="#111" stroke-width="1.1" />
<text x="166.7" y="419.2" font-size="9.5" letter-spacing="0.75" fill="#111" stroke="#111" stroke-width="0.1" style="font-family:'Liberation Sans',sans-serif">CH</text>
<line x1="185" y1="310" x2="195.5" y2="304.5" stroke="#111" stroke-width="1.1" />
<line x1="185" y1="310" x2="176.5" y2="316" stroke="#111" stroke-width="1.1" />
<line x1="185" y1="355.5" x2="195.5" y2="350.0" stroke="#111" stroke-width="1.1" />
<line x1="185" y1="355.5" x2="176.5" y2="361.5" stroke="#111" stroke-width="1.1" />
<line x1="185" y1="401.5" x2="195.5" y2="396.0" stroke="#111" stroke-width="1.1" />
<line x1="185" y1="401.5" x2="176.5" y2="407.5" stroke="#111" stroke-width="1.1" />
<line x1="146" y1="309.6" x2="180" y2="309.6" stroke="#111" stroke-width="1.0" />
<line x1="416.5" y1="297.5" x2="425" y2="306" stroke="#111" stroke-width="1.1" />
<text x="424.0" y="314.5" font-size="9.5" letter-spacing="0.75" fill="#111" stroke="#111" stroke-width="0.1" style="font-family:'Liberation Sans',sans-serif">CH</text>
<line x1="416.5" y1="349.0" x2="425" y2="357.5" stroke="#111" stroke-width="1.1" />
<text x="424.0" y="366.0" font-size="9.5" letter-spacing="0.75" fill="#111" stroke="#111" stroke-width="0.1" style="font-family:'Liberation Sans',sans-serif">CH</text>
<line x1="416.5" y1="394.5" x2="425" y2="403" stroke="#111" stroke-width="1.1" />
<text x="424.0" y="411.5" font-size="9.5" letter-spacing="0.75" fill="#111" stroke="#111" stroke-width="0.1" style="font-family:'Liberation Sans',sans-serif">CH</text>
<line x1="423" y1="330" x2="412.5" y2="339.0" stroke="#111" stroke-width="1.1" />
<line x1="423" y1="330" x2="432" y2="320.5" stroke="#111" stroke-width="1.1" />
<line x1="425.5" y1="379.5" x2="412.5" y2="384.5" stroke="#111" stroke-width="1.1" />
<line x1="425.5" y1="379.5" x2="434.5" y2="370.0" stroke="#111" stroke-width="1.1" />
<line x1="424" y1="423.5" x2="412.5" y2="426.0" stroke="#111" stroke-width="1.1" />
<line x1="424" y1="423.5" x2="433" y2="414.0" stroke="#111" stroke-width="1.1" />
<polygon points="191.5,293.0 206.0,288.0 222.0,294.0 216.0,305.0 195.5,304.5" fill="#111" stroke="#111" stroke-width="0.6" stroke-linejoin="round"/><polygon points="191.5,293.0 206.0,288.0 222.0,294.0 216.0,302.1 195.5,301.6" fill="url(#sug)" stroke="#222" stroke-width="0.7" stroke-linejoin="round"/>
<polyline points="191.5,293.0 195.5,304.5" fill="none" stroke="#111" stroke-width="1.3" stroke-linecap="round"/>
<polygon points="191.5,338.5 206.0,333.5 222.0,339.5 216.0,350.5 195.5,350.0" fill="#111" stroke="#111" stroke-width="0.6" stroke-linejoin="round"/><polygon points="191.5,338.5 206.0,333.5 222.0,339.5 216.0,347.6 195.5,347.1" fill="url(#sug)" stroke="#222" stroke-width="0.7" stroke-linejoin="round"/>
<polyline points="191.5,338.5 195.5,350.0" fill="none" stroke="#111" stroke-width="1.3" stroke-linecap="round"/>
<polygon points="191.5,384.5 206.0,379.5 222.0,385.5 216.0,396.5 195.5,396.0" fill="#111" stroke="#111" stroke-width="0.6" stroke-linejoin="round"/><polygon points="191.5,384.5 206.0,379.5 222.0,385.5 216.0,393.6 195.5,393.1" fill="url(#sug)" stroke="#222" stroke-width="0.7" stroke-linejoin="round"/>
<polyline points="191.5,384.5 195.5,396.0" fill="none" stroke="#111" stroke-width="1.3" stroke-linecap="round"/>
<polygon points="191.5,431.5 206.0,426.5 222.0,432.5 216.0,443.5 195.5,443.0" fill="#111" stroke="#111" stroke-width="0.6" stroke-linejoin="round"/><polygon points="191.5,431.5 206.0,426.5 222.0,432.5 216.0,440.6 195.5,440.1" fill="url(#sug)" stroke="#222" stroke-width="0.7" stroke-linejoin="round"/>
<polyline points="191.5,431.5 195.5,443.0" fill="none" stroke="#111" stroke-width="1.3" stroke-linecap="round"/>
<polygon points="391.0,286.0 412.0,286.0 416.5,297.5 402.5,303.5 386.5,297.5" fill="#111" stroke="#111" stroke-width="0.6" stroke-linejoin="round"/><polygon points="391.0,288.9 412.0,288.9 416.5,297.5 402.5,303.5 386.5,297.5" fill="url(#sugR)" stroke="#222" stroke-width="0.7" stroke-linejoin="round"/>
<polyline points="412.0,286.0 416.5,297.5" fill="none" stroke="#111" stroke-width="1.2" stroke-linecap="round"/>
<polygon points="391.0,337.5 412.0,337.5 416.5,349.0 402.5,355.0 386.5,349.0" fill="#111" stroke="#111" stroke-width="0.6" stroke-linejoin="round"/><polygon points="391.0,340.4 412.0,340.4 416.5,349.0 402.5,355.0 386.5,349.0" fill="url(#sugR)" stroke="#222" stroke-width="0.7" stroke-linejoin="round"/>
<polyline points="412.0,337.5 416.5,349.0" fill="none" stroke="#111" stroke-width="1.2" stroke-linecap="round"/>
<polygon points="391.0,383.0 412.0,383.0 416.5,394.5 402.5,400.5 386.5,394.5" fill="#111" stroke="#111" stroke-width="0.6" stroke-linejoin="round"/><polygon points="391.0,385.9 412.0,385.9 416.5,394.5 402.5,400.5 386.5,394.5" fill="url(#sugR)" stroke="#222" stroke-width="0.7" stroke-linejoin="round"/>
<polyline points="412.0,383.0 416.5,394.5" fill="none" stroke="#111" stroke-width="1.2" stroke-linecap="round"/>
<polygon points="391.0,424.5 412.0,424.5 416.5,436.0 402.5,442.0 386.5,436.0" fill="#111" stroke="#111" stroke-width="0.6" stroke-linejoin="round"/><polygon points="391.0,427.4 412.0,427.4 416.5,436.0 402.5,442.0 386.5,436.0" fill="url(#sugR)" stroke="#222" stroke-width="0.7" stroke-linejoin="round"/>
<polyline points="412.0,424.5 416.5,436.0" fill="none" stroke="#111" stroke-width="1.2" stroke-linecap="round"/>
<polygon points="234.7,293.8 241.7,287.0 262.7,287.0 271.2,293.5 263.7,301.4 242.9,301.4" fill="#111" stroke="#111" stroke-width="0.6" stroke-linejoin="round"/><polygon points="234.7,293.8 241.7,287.0 262.7,287.0 271.2,293.5 263.7,298.6 242.9,298.6" fill="url(#bas)" stroke="#222" stroke-width="0.7" stroke-linejoin="round"/>
<polygon points="312.4,294.2 320.1,287.6 339.4,287.0 354.2,281.0 367.9,285.9 370.2,288.7 365.8,298.0 345.4,298.0 341.0,304.0 320.1,304.0" fill="#111" stroke="#111" stroke-width="0.6" stroke-linejoin="round"/><polygon points="312.4,294.2 320.1,287.6 339.4,287.0 354.2,281.0 367.9,285.9 370.2,288.7 365.8,295.2 345.4,295.2 341.0,301.2 320.1,301.2" fill="url(#bas)" stroke="#222" stroke-width="0.7" stroke-linejoin="round"/>
<polygon points="234.4,335.4 249.6,329.9 256.0,331.6 263.4,334.6 281.7,334.9 292.8,343.8 286.3,351.7 265.3,352.0 259.5,346.7 239.7,346.7 234.4,339.4" fill="#111" stroke="#111" stroke-width="0.6" stroke-linejoin="round"/><polygon points="234.4,335.4 249.6,329.9 256.0,331.6 263.4,334.6 281.7,334.9 292.8,343.8 286.3,348.9 265.3,349.2 259.5,343.9 239.7,343.9 234.4,339.4" fill="url(#bas)" stroke="#222" stroke-width="0.7" stroke-linejoin="round"/>
<polygon points="336.8,343.0 343.8,336.2 364.8,336.2 373.3,342.7 365.8,350.6 345.0,350.6" fill="#111" stroke="#111" stroke-width="0.6" stroke-linejoin="round"/><polygon points="336.8,343.0 343.8,336.2 364.8,336.2 373.3,342.7 365.8,347.8 345.0,347.8" fill="url(#bas)" stroke="#222" stroke-width="0.7" stroke-linejoin="round"/>
<polygon points="234.4,379.7 249.6,374.2 256.0,375.9 263.4,378.9 281.7,379.2 292.8,388.1 286.3,396.0 265.3,396.3 259.5,391.0 239.7,391.0 234.4,383.7" fill="#111" stroke="#111" stroke-width="0.6" stroke-linejoin="round"/><polygon points="234.4,379.7 249.6,374.2 256.0,375.9 263.4,378.9 281.7,379.2 292.8,388.1 286.3,393.2 265.3,393.5 259.5,388.2 239.7,388.2 234.4,383.7" fill="url(#bas)" stroke="#222" stroke-width="0.7" stroke-linejoin="round"/>
<polygon points="337.0,389.0 344.0,382.2 365.0,382.2 373.5,388.7 366.0,396.6 345.2,396.6" fill="#111" stroke="#111" stroke-width="0.6" stroke-linejoin="round"/><polygon points="337.0,389.0 344.0,382.2 365.0,382.2 373.5,388.7 366.0,393.8 345.2,393.8" fill="url(#bas)" stroke="#222" stroke-width="0.7" stroke-linejoin="round"/>
<polygon points="234.7,432.0 241.7,425.2 262.7,425.2 271.2,431.7 263.7,439.6 242.9,439.6" fill="#111" stroke="#111" stroke-width="0.6" stroke-linejoin="round"/><polygon points="234.7,432.0 241.7,425.2 262.7,425.2 271.2,431.7 263.7,436.8 242.9,436.8" fill="url(#bas)" stroke="#222" stroke-width="0.7" stroke-linejoin="round"/>
<polygon points="312.0,432.5 319.7,425.9 339.0,425.3 353.8,419.3 367.5,424.2 369.8,427.0 365.4,436.3 345.0,436.3 340.6,442.3 319.7,442.3" fill="#111" stroke="#111" stroke-width="0.6" stroke-linejoin="round"/><polygon points="312.0,432.5 319.7,425.9 339.0,425.3 353.8,419.3 367.5,424.2 369.8,427.0 365.4,433.5 345.0,433.5 340.6,439.5 319.7,439.5" fill="url(#bas)" stroke="#222" stroke-width="0.7" stroke-linejoin="round"/>
<circle cx="185" cy="310" r="5.6" fill="#fff" stroke="#111" stroke-width="1.1"/>
<text x="185" y="312.7" font-size="8.2" font-weight="bold" text-anchor="middle" fill="#111" style="font-family:'Liberation Sans',sans-serif">P</text>
<circle cx="185" cy="355.5" r="5.6" fill="#fff" stroke="#111" stroke-width="1.1"/>
<text x="185" y="358.2" font-size="8.2" font-weight="bold" text-anchor="middle" fill="#111" style="font-family:'Liberation Sans',sans-serif">P</text>
<circle cx="185" cy="401.5" r="5.6" fill="#fff" stroke="#111" stroke-width="1.1"/>
<text x="185" y="404.2" font-size="8.2" font-weight="bold" text-anchor="middle" fill="#111" style="font-family:'Liberation Sans',sans-serif">P</text>
<circle cx="423" cy="330" r="5.6" fill="#fff" stroke="#111" stroke-width="1.1"/>
<text x="423" y="332.7" font-size="8.2" font-weight="bold" text-anchor="middle" fill="#111" style="font-family:'Liberation Sans',sans-serif">P</text>
<circle cx="425.5" cy="379.5" r="5.6" fill="#fff" stroke="#111" stroke-width="1.1"/>
<text x="425.5" y="382.2" font-size="8.2" font-weight="bold" text-anchor="middle" fill="#111" style="font-family:'Liberation Sans',sans-serif">P</text>
<circle cx="424" cy="423.5" r="5.6" fill="#fff" stroke="#111" stroke-width="1.1"/>
<text x="424" y="426.2" font-size="8.2" font-weight="bold" text-anchor="middle" fill="#111" style="font-family:'Liberation Sans',sans-serif">P</text>
<text x="116.5" y="303.0" font-size="9.4" fill="#111" stroke="#111" stroke-width="0.1" style="font-family:'Liberation Sans',sans-serif">Phosphate</text>
<text x="116.5" y="312.1" font-size="9.4" fill="#111" stroke="#111" stroke-width="0.1" style="font-family:'Liberation Sans',sans-serif">Group</text>
<text x="369.5" y="56.5" font-size="10.3" textLength="24.4" lengthAdjust="spacingAndGlyphs" fill="#111" stroke="#111" stroke-width="0.1" style="font-family:'Liberation Sans',sans-serif">Sugar</text>
<text x="369.3" y="90.5" font-size="10.3" textLength="26.2" lengthAdjust="spacingAndGlyphs" fill="#111" stroke="#111" stroke-width="0.1" style="font-family:'Liberation Sans',sans-serif">Bases</text>
<line x1="397.5" y1="53.7" x2="420" y2="53.7" stroke="#222" stroke-width="1" />
<line x1="397.6" y1="87.8" x2="419" y2="87.8" stroke="#222" stroke-width="1" />
<line x1="397.6" y1="91" x2="416.8" y2="110.3" stroke="#222" stroke-width="1" />
<polygon points="421.2,51.4 437.7,46.4 452.2,51.9 446.7,63.6 425.7,63.6" fill="#111" stroke="#111" stroke-width="0.6" stroke-linejoin="round"/><polygon points="421.2,51.4 437.7,46.4 452.2,51.9 446.7,60.6 425.7,60.6" fill="url(#sug)" stroke="#222" stroke-width="0.7" stroke-linejoin="round"/>
<polyline points="421.2,51.4 425.7,63.6" fill="none" stroke="#111" stroke-width="1.3" stroke-linecap="round"/>
<polygon points="419.5,87.3 426.5,80.5 447.5,80.5 456.0,87.0 448.5,94.9 427.7,94.9" fill="#111" stroke="#111" stroke-width="0.6" stroke-linejoin="round"/><polygon points="419.5,87.3 426.5,80.5 447.5,80.5 456.0,87.0 448.5,92.1 427.7,92.1" fill="url(#bas)" stroke="#222" stroke-width="0.7" stroke-linejoin="round"/>
<polygon points="397.6,120.6 405.3,114.0 424.6,113.4 439.4,107.4 453.1,112.3 455.4,115.1 451.0,124.4 430.6,124.4 426.2,130.4 405.3,130.4" fill="#111" stroke="#111" stroke-width="0.6" stroke-linejoin="round"/><polygon points="397.6,120.6 405.3,114.0 424.6,113.4 439.4,107.4 453.1,112.3 455.4,115.1 451.0,121.6 430.6,121.6 426.2,127.6 405.3,127.6" fill="url(#bas)" stroke="#222" stroke-width="0.7" stroke-linejoin="round"/>
</svg></body></html>
